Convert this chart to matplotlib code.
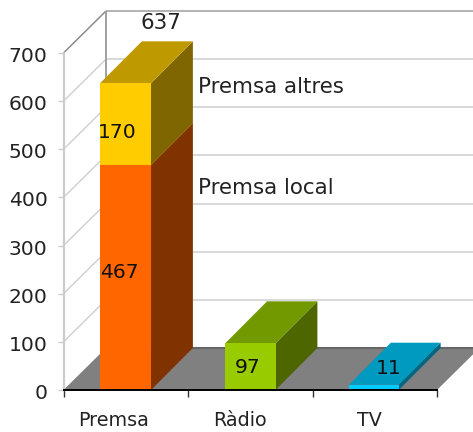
import matplotlib
matplotlib.use("Agg")
import matplotlib.pyplot as plt
from matplotlib.patches import Polygon
from matplotlib.ticker import NullLocator
from matplotlib.transforms import ScaledTranslation

W, H = 473, 432
categories = ["Premsa", "Ràdio", "TV"]
premsa_local = [467, 0, 0]
premsa_altres = [170, 0, 0]
radio = [0, 97, 0]
tv = [0, 0, 11]
totals = [637, 97, 11]
y_ticks = [0, 100, 200, 300, 400, 500, 600, 700]

# colours: front, top, side
ORANGE = ("#FF6600", "#BF4D00", "#803300")
YELLOW = ("#FFCC00", "#BF9900", "#806600")
GREEN = ("#99CC00", "#739900", "#4D6600")
CYAN = ("#00CCFF", "#0099BF", "#006680")
TXT = "#222222"
FS_Y = 14.6
FS_X = 13.8
FS_VAL = 14.6
FS_NOTE = 15.4

fig = plt.figure(figsize=(W / 100, H / 100), dpi=100, facecolor="white")
L, R, T, B = 63.5, 437.0, 53.0, 390.0
ax = fig.add_axes([L / W, 1 - B / H, (R - L) / W, (B - T) / H])
ax.set_xlim(0, 3)
ax.set_ylim(0, 700)
ax.patch.set_visible(False)

# depth vector of the 3D box, in data units
DX = 42.5 / ((R - L) / 3)
DY = 42.0 / ((B - T) / 700)
XMAX = 3 + DX


def poly(pts, color, z, ec="none", lw=0):
    ax.add_patch(Polygon(pts, closed=True, facecolor=color, edgecolor=ec,
                         linewidth=lw, zorder=z, clip_on=False))


def line(xs, ys, color, lw, z):
    ax.plot(xs, ys, color=color, lw=lw, zorder=z, clip_on=False,
            solid_capstyle="butt")


# walls and gridlines
for v in y_ticks[1:]:
    is_top = v == y_ticks[-1]
    line([0, DX], [v, v + DY], "#8c8c8c" if is_top else "#d2d2d2", 1.1, 1)
    line([DX, XMAX], [v + DY, v + DY], "#a6a6a6" if is_top else "#d2d2d2", 1.2, 1)
line([DX, DX], [DY, 700 + DY], "#999999", 1.3, 1)

# floor
poly([(0, 0), (3, 0), (XMAX, DY), (DX, DY)], "#808080", 2)
line([DX, XMAX], [DY, DY], "#666666", 1.5, 2.1)


def box(x0, x1, y0, y1, colors, z):
    front, top, side = colors
    dx, dy = DX * 0.985, DY
    poly([(x1, y0), (x1 + dx, y0 + dy), (x1 + dx, y1 + dy), (x1, y1)], side, z)
    poly([(x0, y1), (x1, y1), (x1 + dx, y1 + dy), (x0 + dx, y1 + dy)], top, z)
    poly([(x0, y0), (x1, y0), (x1, y1), (x0, y1)], front, z + 0.1)


BW0, BW1 = 0.293, 0.703
box(BW0, BW1, 0, premsa_local[0], ORANGE, 3)
box(BW0, BW1, premsa_local[0], premsa_local[0] + premsa_altres[0], YELLOW, 3.2)
box(1 + BW0 + 0.006, 1 + BW1, 0, radio[1], GREEN, 3.4)
box(2 + BW0, 2 + BW1 - 0.01, 0, tv[2], CYAN, 3.6)

# axes furniture
for s in ("top", "right"):
    ax.spines[s].set_visible(False)
ax.spines["left"].set_color("#cccccc")
ax.spines["left"].set_linewidth(1.6)
ax.spines["bottom"].set_color("black")
ax.spines["bottom"].set_linewidth(1.4)
ax.spines["left"].set_zorder(5)
ax.spines["bottom"].set_zorder(6)

ax.set_yticks(y_ticks)
ax.tick_params(axis="y", length=4.5, width=1.0, color="#cccccc", labelsize=FS_Y,
               labelcolor=TXT, pad=7)
offset = ScaledTranslation(0, -1.5 / 100, fig.dpi_scale_trans)
for lab in ax.get_yticklabels():
    lab.set_transform(lab.get_transform() + offset)
ax.set_xticks([0, 1, 2, 3])
ax.set_xticklabels([])
ax.tick_params(axis="x", which="major", length=5, width=1.0, color="#333333")
ax.set_xticks([0.4, 1.42, 2.46], minor=True)
ax.set_xticklabels(categories, minor=True)
ax.tick_params(axis="x", which="minor", length=0, labelsize=FS_X, labelcolor=TXT, pad=15)
ax.yaxis.set_minor_locator(NullLocator())

# value labels
kw = dict(ha="center", va="center", fontsize=FS_VAL, clip_on=False, zorder=10)
ax.text(0.445, 245, str(premsa_local[0]), color="#111111", **kw)
ax.text(0.435, 534, str(premsa_altres[0]), color="#111111", **kw)
ax.text(1.48, 46, str(radio[1]), color="#111111", **kw)
ax.text(2.61, 45, str(tv[2]), color="#111111", **kw)
ax.text(0.783, 762, str(totals[0]), color=TXT, ha="center", va="center",
        fontsize=FS_NOTE, clip_on=False, zorder=10)
kw2 = dict(ha="left", va="center", fontsize=FS_NOTE, color=TXT, clip_on=False, zorder=10)
ax.text(1.08, 629, "Premsa altres", **kw2)
ax.text(1.08, 420, "Premsa local", **kw2)

fig.savefig("out.png", dpi=100, facecolor="white")
